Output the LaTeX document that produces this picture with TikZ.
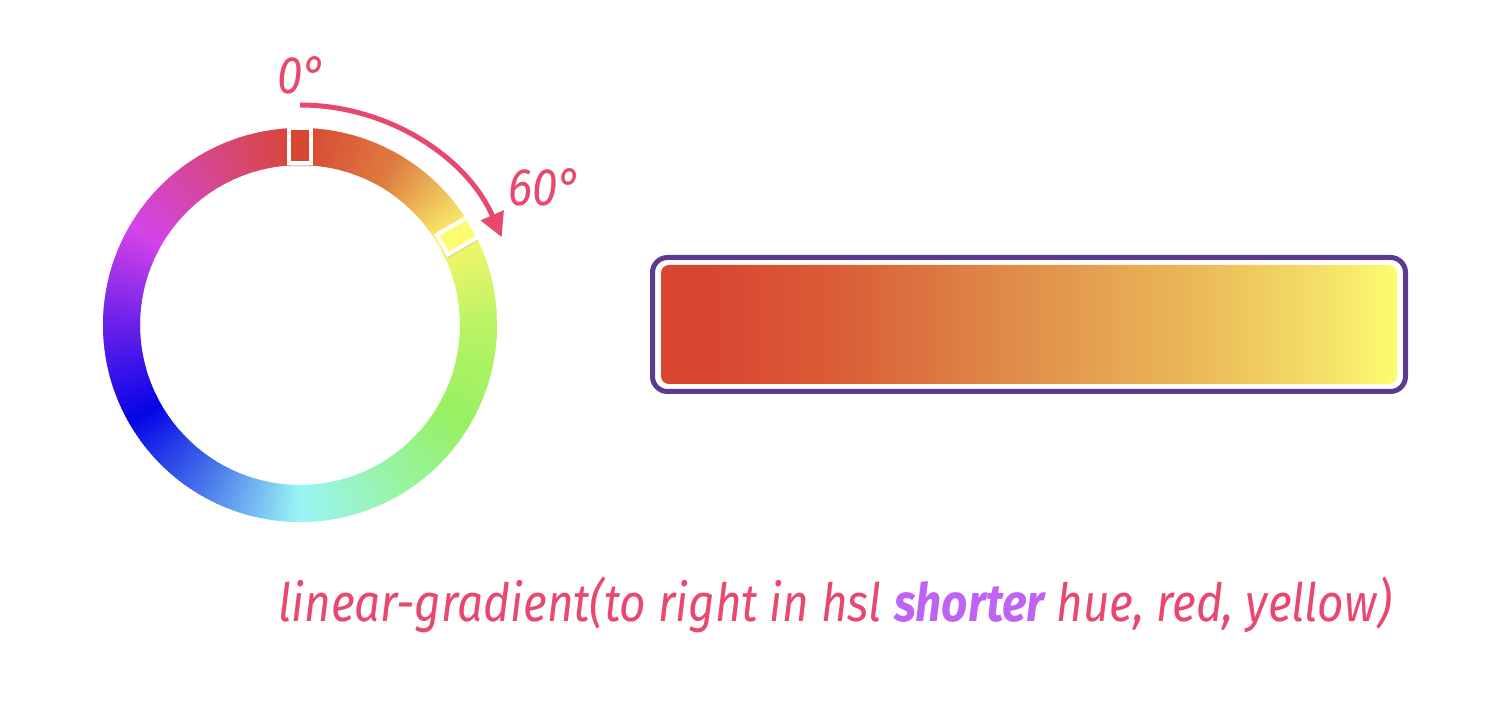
\documentclass[tikz,border=0pt]{standalone}
\usepackage{fontspec}
\usepackage{tikz}
\usetikzlibrary{arrows.meta, calc, shadows}

\newfontfamily\handfont[FakeStretch = 0.87]{Fira Sans}

\definecolor{hue0}{HTML}{D84632}
\definecolor{hue30}{HTML}{DE7C42}
\definecolor{hue60}{HTML}{FAF56C}
\definecolor{hue90}{HTML}{B8F464}
\definecolor{hue120}{HTML}{98F062}
\definecolor{hue150}{HTML}{98F4A8}
\definecolor{hue180}{HTML}{9AF4F6}
\definecolor{hue210}{HTML}{4A7AEA}
\definecolor{hue240}{HTML}{0505E6}
\definecolor{hue270}{HTML}{6A20EA}
\definecolor{hue300}{HTML}{D444E8}
\definecolor{hue330}{HTML}{D6478C}
\definecolor{baryellow}{HTML}{FCFC6E}
\definecolor{pinkline}{HTML}{E8486D}
\definecolor{purpletext}{HTML}{BF63F4}
\definecolor{barframe}{HTML}{5B3A94}

\pgfdeclarehorizontalshading{hslbar}{100bp}{color(0bp)=(hue0); color(25bp)=(hue0); color(28.5bp)=(hue0);
  rgb(37.5bp)=(0.855,0.373,0.22); rgb(50bp)=(0.878,0.565,0.29); rgb(62.5bp)=(0.922,0.745,0.353);
  rgb(70bp)=(0.957,0.878,0.408); color(75bp)=(baryellow); color(100bp)=(baryellow)}

\tikzset{
  huemark/.style = {draw = white, line width = 0.04cm, minimum width = 0.225cm, minimum height = 0.35cm, inner sep = 0pt,
    drop shadow = {opacity = 0.18, shadow xshift = 0cm, shadow yshift = -0.04cm}},
  hand/.style = {color = pinkline, font = \handfont\itshape\fontsize{15}{18}\selectfont}
}

\begin{document}
\begin{tikzpicture}
                \useasboundingbox (0, 0) rectangle (15, 7.1);

                \coordinate (wheel) at (3, 3.85);
                \foreach \ca/\cb [count = \k from 0] in {hue0/hue30, hue30/hue60, hue60/hue90, hue90/hue120, hue120/hue150, hue150/hue180,
                    hue180/hue210, hue210/hue240, hue240/hue270, hue270/hue300, hue300/hue330, hue330/hue0}
                \foreach \s in {0, ..., 29}
                {
                    \pgfmathsetmacro{\a}{90 - \k * 30 - \s + 0.3}
                    \pgfmathsetmacro{\b}{90 - \k * 30 - \s - 1.3}
                    \pgfmathsetmacro{\p}{\s * 100 / 30}
                    \fill [color = \cb!\p!\ca, shift = {(wheel)}] (\a:1.6) arc [start angle = \a, end angle = \b, radius = 1.6]
                        -- (\b:1.97) arc [start angle = \b, end angle = \a, radius = 1.97] -- cycle;
                }

                \node [huemark, fill = hue0] (mark0) at ($(wheel) + (90:1.795)$) {};
                \node [huemark, fill = baryellow, rotate = -60] (mark60) at ($(wheel) + (29.5:1.81)$) {};

                \coordinate (arcstart) at ($(wheel) + (90:2.2)$);
                \draw [color = pinkline, line width = 0.05cm, -{Triangle[length = 0.24cm, width = 0.24cm]}] (arcstart)
                    arc [start angle = 90, end angle = 23.5, radius = 2.2];

                \node [hand] (deg0) at (3.02, 6.35) {0°};
                \node [hand] (deg60) at (5.45, 5.23) {60°};

                \draw [color = barframe, line width = 0.05cm, rounded corners = 0.15cm] (6.525, 3.185) rectangle (14.055, 4.525);
                \shade [shading = hslbar, rounded corners = 0.08cm] (6.61, 3.26) rectangle (13.97, 4.45);

                \node [hand, anchor = base west] (css) at (2.66, 0.88)
                    {linear-gradient(to right in hsl {\bfseries\color{purpletext}shorter} hue, red, yellow)};
            \end{tikzpicture}
\end{document}
